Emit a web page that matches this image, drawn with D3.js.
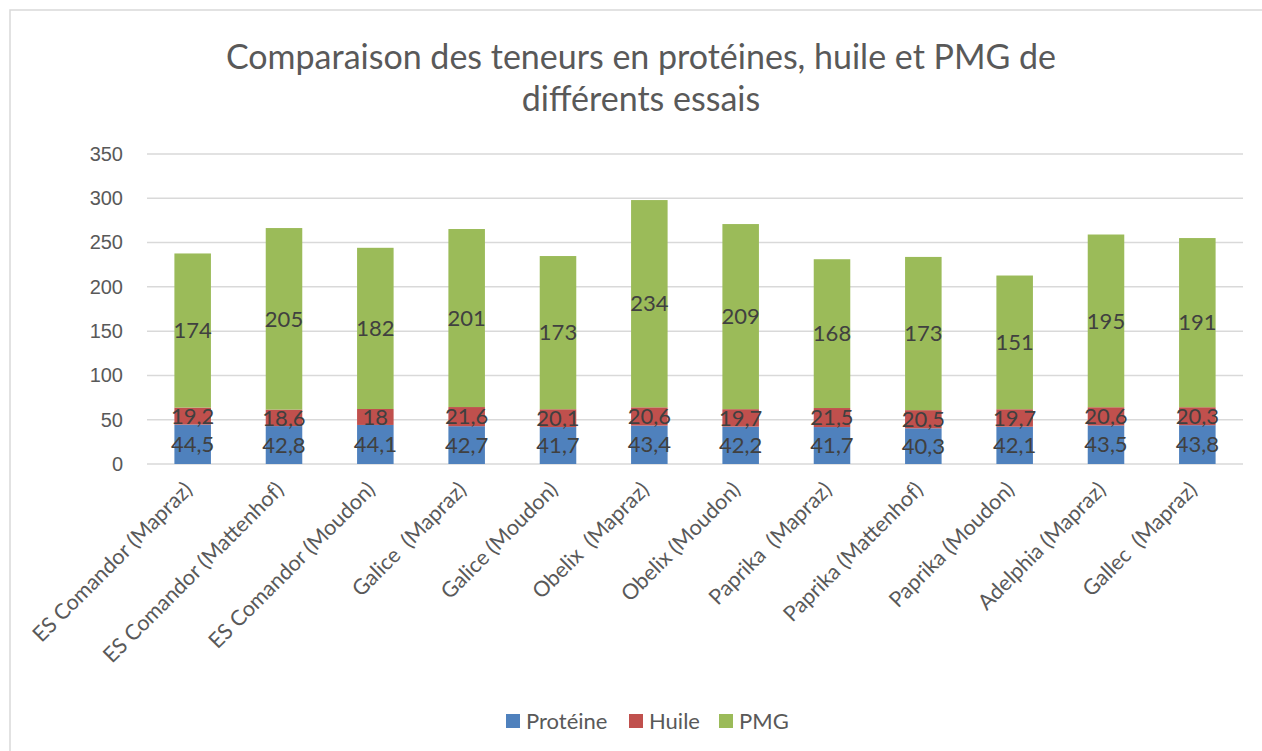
<!DOCTYPE html>
<html lang="fr">
<head>
    <meta charset="UTF-8">
    <title>Comparaison des teneurs</title>
    <script src="https://d3js.org/d3.v7.min.js"></script>
    <style>
        body {
            margin: 0;
            background: #fff;
        }
        svg {
            display: block;
            font-family: Lato, "Open Sans", sans-serif;
        }
        .title {
            font-size: 34px;
            fill: #595959;
        }
        .axis text {
            font-size: 20px;
            fill: #595959;
        }
        .x-label {
            font-size: 21.5px;
            fill: #595959;
            white-space: pre;
        }
        .value-label {
            font-size: 22px;
            fill: #404040;
        }
        .legend text {
            font-size: 22px;
            fill: #595959;
        }
    </style>
</head>
<body>
    <svg width="1262" height="751"></svg>
    <script>
        // Data
        const categories = [
            "ES Comandor (Mapraz)", "ES Comandor (Mattenhof)", "ES Comandor (Moudon)",
            "Galice  (Mapraz)", "Galice (Moudon)", "Obelix  (Mapraz)", "Obelix (Moudon)",
            "Paprika  (Mapraz)", "Paprika (Mattenhof)", "Paprika (Moudon)",
            "Adelphia (Mapraz)", "Gallec  (Mapraz)"
        ];
        const proteine = [44.5, 42.8, 44.1, 42.7, 41.7, 43.4, 42.2, 41.7, 40.3, 42.1, 43.5, 43.8];
        const huile = [19.2, 18.6, 18, 21.6, 20.1, 20.6, 19.7, 21.5, 20.5, 19.7, 20.6, 20.3];
        const pmg = [174, 205, 182, 201, 173, 234, 209, 168, 173, 151, 195, 191];
        const seriesNames = ["Protéine", "Huile", "PMG"];
        const yTicks = [0, 50, 100, 150, 200, 250, 300, 350];

        const colors = ["#4F81BD", "#C0504D", "#9BBB59"];

        const svg = d3.select("svg");

        // Chart border (Excel chart area)
        svg.append("rect")
           .attr("x", 10)
           .attr("y", 10)
           .attr("width", 1300)
           .attr("height", 800)
           .attr("fill", "none")
           .attr("stroke", "#d9d9d9")
           .attr("stroke-width", 1.5);

        // Title
        const title = svg.append("text")
           .attr("class", "title")
           .attr("text-anchor", "middle");
        title.append("tspan").attr("x", 641).attr("y", 69)
             .text("Comparaison des teneurs en protéines, huile et PMG de");
        title.append("tspan").attr("x", 641).attr("y", 111)
             .text("différents essais");

        const plot = {left: 147, right: 1243, top: 154, bottom: 464};

        const x = d3.scaleBand()
                    .domain(categories)
                    .range([plot.left, plot.right])
                    .paddingInner(0.6)
                    .paddingOuter(0.3);

        const y = d3.scaleLinear()
                    .domain([0, 350])
                    .range([plot.bottom, plot.top]);

        // Gridlines
        svg.append("g")
           .selectAll("line")
           .data(yTicks)
           .join("line")
           .attr("x1", plot.left)
           .attr("x2", plot.right)
           .attr("y1", d => y(d))
           .attr("y2", d => y(d))
           .attr("stroke", "#d9d9d9")
           .attr("stroke-width", 1.5);

        // Y axis labels
        const yAxis = svg.append("g")
           .attr("class", "axis")
           .attr("transform", `translate(${plot.left},0)`)
           .call(d3.axisLeft(y).tickValues(yTicks).tickSize(0).tickPadding(24));
        yAxis.select(".domain").remove();

        // Stack data
        const rows = categories.map((c, i) => ({
            cat: c, "Protéine": proteine[i], "Huile": huile[i], "PMG": pmg[i]
        }));
        const stacked = d3.stack().keys(seriesNames)(rows);

        const groups = svg.append("g")
           .selectAll("g")
           .data(stacked)
           .join("g")
           .attr("fill", (d, i) => colors[i]);

        groups.selectAll("rect")
              .data(d => d)
              .join("rect")
              .attr("x", d => x(d.data.cat))
              .attr("y", d => y(d[1]))
              .attr("width", x.bandwidth())
              .attr("height", d => y(d[0]) - y(d[1]));

        // Value labels
        const fmt = v => String(v).replace(".", ",");
        groups.selectAll("text")
              .data(d => d.map(p => ({p, key: d.key})))
              .join("text")
              .attr("class", "value-label")
              .attr("text-anchor", "middle")
              .attr("x", d => x(d.p.data.cat) + x.bandwidth() / 2)
              .attr("y", d => (y(d.p[0]) + y(d.p[1])) / 2)
              .attr("dy", "0.35em")
              .text(d => fmt(d.p.data[d.key]));

        // X axis category labels (rotated)
        svg.append("g")
           .selectAll("text")
           .data(categories)
           .join("text")
           .attr("class", "x-label")
           .attr("text-anchor", "end")
           .attr("transform", d => `translate(${x(d) + x.bandwidth() / 2 + 1},${plot.bottom + 27}) rotate(-45)`)
           .text(d => d);

        // Legend
        const legendX = [506, 629, 719];
        const legend = svg.append("g")
           .attr("class", "legend")
           .selectAll("g")
           .data(seriesNames)
           .join("g")
           .attr("transform", (d, i) => `translate(${legendX[i]},714)`);

        legend.append("rect")
              .attr("width", 14)
              .attr("height", 14)
              .attr("fill", (d, i) => colors[i]);

        legend.append("text")
              .attr("x", 20)
              .attr("y", 7)
              .attr("dy", "0.35em")
              .text(d => d);
    </script>
</body>
</html>
